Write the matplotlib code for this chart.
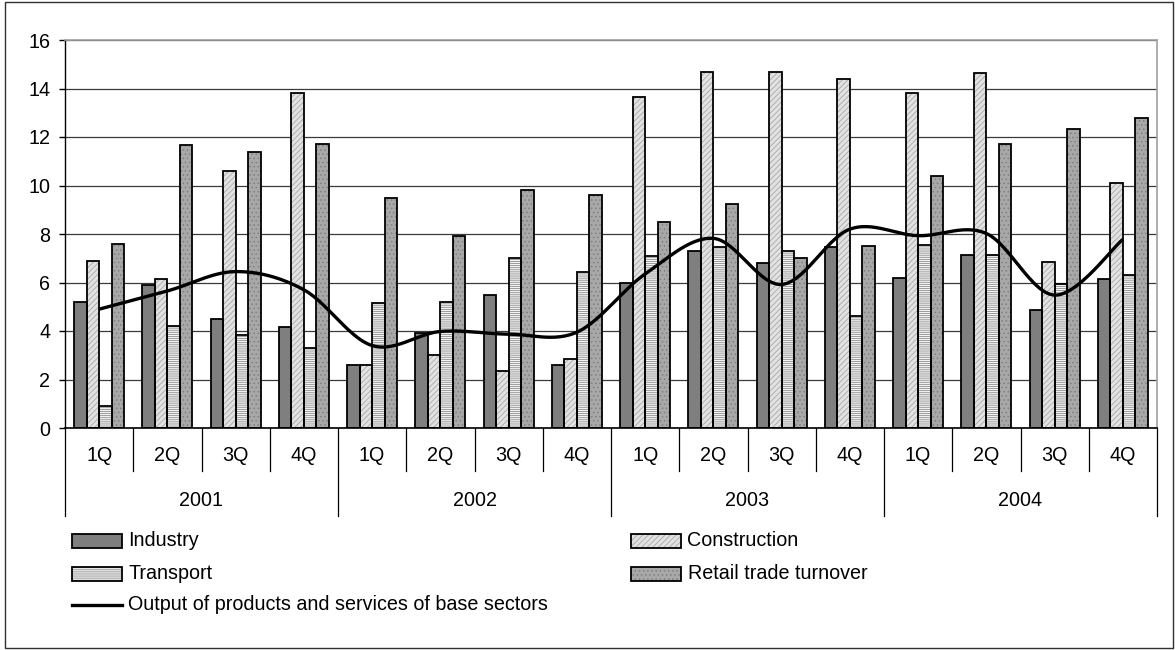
import numpy as np
import matplotlib
matplotlib.use('Agg')
import matplotlib.pyplot as plt
from matplotlib.patches import Rectangle
from matplotlib.lines import Line2D

# Quarterly growth by sector, 2001-2004
years = ['2001', '2002', '2003', '2004']
quarters = ['1Q', '2Q', '3Q', '4Q']

industry = [5.2, 5.9, 4.5, 4.15,
            2.6, 3.9, 5.5, 2.6,
            6.0, 7.3, 6.8, 7.45,
            6.2, 7.15, 4.85, 6.15]
construction = [6.9, 6.15, 10.6, 13.8,
                2.6, 3.0, 2.35, 2.85,
                13.65, 14.7, 14.7, 14.4,
                13.8, 14.65, 6.85, 10.1]
transport = [0.9, 4.2, 3.85, 3.3,
             5.15, 5.2, 7.0, 6.45,
             7.1, 7.45, 7.3, 4.6,
             7.55, 7.15, 5.95, 6.3]
retail = [7.6, 11.65, 11.4, 11.7,
          9.5, 7.9, 9.8, 9.6,
          8.5, 9.25, 7.0, 7.5,
          10.4, 11.7, 12.35, 12.8]
output = [4.9, 5.65, 6.45, 5.7,
          3.4, 3.98, 3.87, 3.95,
          6.35, 7.82, 5.92, 8.2,
          7.93, 8.02, 5.48, 7.78]

series = [
    ('Industry', industry, '#7f7f7f', '#757575', ''),
    ('Construction', construction, '#e2e2e2', '#a8a8a8', '//////'),
    ('Transport', transport, '#f4f4f4', '#8c8c8c', '--------'),
    ('Retail trade turnover', retail, '#a8a8a8', '#808080', '....'),
]

FS = 14.2
plt.rcParams['font.family'] = ['Liberation Sans', 'DejaVu Sans']
plt.rcParams['font.size'] = FS
plt.rcParams['hatch.linewidth'] = 0.6

W, H = 1175, 650
fig = plt.figure(figsize=(W / 100, H / 100), dpi=100)
ax = fig.add_axes([65 / W, 1 - 428 / H, (1157 - 65) / W, (428 - 40) / H])


def smooth(xs, ys, steps=30):
    # Bezier smoothing through every point, like an office chart "smoothed line"
    xs = np.asarray(xs, float)
    ys = np.asarray(ys, float)
    px = np.concatenate([[xs[0]], xs, [xs[-1]]])
    py = np.concatenate([[ys[0]], ys, [ys[-1]]])
    out_x, out_y = [], []
    t = np.linspace(0, 1, steps)
    for i in range(1, len(px) - 2):
        p0 = np.array([px[i], py[i]])
        p3 = np.array([px[i + 1], py[i + 1]])
        c1 = p0 + (np.array([px[i + 1], py[i + 1]]) - np.array([px[i - 1], py[i - 1]])) / 6
        c2 = p3 - (np.array([px[i + 2], py[i + 2]]) - np.array([px[i], py[i]])) / 6
        b = ((1 - t) ** 3)[:, None] * p0 + (3 * (1 - t) ** 2 * t)[:, None] * c1 \
            + (3 * (1 - t) * t ** 2)[:, None] * c2 + (t ** 3)[:, None] * p3
        out_x.extend(b[:, 0])
        out_y.extend(b[:, 1])
    return out_x, out_y


n = len(industry)
x = np.arange(n)
bw = 0.184
for i, (name, vals, face, hcol, hatch) in enumerate(series):
    pos = x + (i - 1.5) * bw
    # fill + hatch first, then a black outline on top
    ax.bar(pos, vals, bw, color=face, edgecolor=hcol, hatch=hatch, linewidth=0, zorder=2)
    ax.bar(pos, vals, bw, fill=False, edgecolor='black', linewidth=1.3, zorder=3)

sx, sy = smooth(x, output)
ax.plot(sx, sy, color='black', lw=2.4, zorder=4, solid_capstyle='butt')

ax.set_xlim(-0.5, n - 0.5)
ax.set_ylim(0, 16)
ax.set_yticks(range(0, 17, 2))
ax.yaxis.grid(True, color='#3a3a3a', lw=0.9, zorder=0)
ax.set_axisbelow(True)
ax.tick_params(axis='y', length=4.5, width=1, pad=6, labelsize=FS)
ax.set_xticks([])
for side in ['top', 'right']:
    ax.spines[side].set_color('#a0a0a0')
    ax.spines[side].set_linewidth(1.2)
ax.spines['left'].set_linewidth(1.0)
ax.spines['bottom'].set_linewidth(1.2)

# two-level category axis: quarters above, years below
tr = ax.get_xaxis_transform()
ax_h = 428 - 40
for k in range(n + 1):
    bottom = -(516 - 428) / ax_h if k % 4 == 0 else -(471 - 428) / ax_h
    ax.plot([k - 0.5, k - 0.5], [0, bottom], color='black', lw=0.9,
            transform=tr, clip_on=False)
for k in range(n):
    ax.text(k, -(461 - 428) / ax_h, quarters[k % 4], ha='center', va='baseline',
            fontsize=FS, transform=tr)
for j, yr in enumerate(years):
    ax.text(4 * j + 1.5, -(506 - 428) / ax_h, yr, ha='center', va='baseline',
            fontsize=FS, transform=tr)


# legend drawn in figure pixels
def fx(px):
    return px / W


def fy(py):
    return 1 - py / H


legend_rows = [
    (series[0], 72, 534),
    (series[1], 631, 534),
    (series[2], 72, 566.5),
    (series[3], 631, 566.5),
]
for (name, vals, face, hcol, hatch), lx, ly in legend_rows:
    fig.patches.append(Rectangle((fx(lx), fy(ly + 14)), 50 / W, 14 / H, transform=fig.transFigure,
                                 facecolor=face, edgecolor=hcol, hatch=hatch, linewidth=0))
    fig.patches.append(Rectangle((fx(lx), fy(ly + 14)), 50 / W, 14 / H, transform=fig.transFigure,
                                 fill=False, edgecolor='black', linewidth=1.3))
    fig.text(fx(lx + 56.5), fy(ly + 12.5), name, ha='left', va='baseline', fontsize=FS)

fig.lines.append(Line2D([fx(72), fx(122)], [fy(605), fy(605)], transform=fig.transFigure,
                        color='black', lw=2.4))
fig.text(fx(128.5), fy(610.5), 'Output of products and services of base sectors',
         ha='left', va='baseline', fontsize=FS)

# chart border
fig.patches.append(Rectangle((fx(5), fy(648)), (1173 - 5) / W, (648 - 2) / H,
                             transform=fig.transFigure, fill=False,
                             edgecolor='#303030', linewidth=1.0))

fig.savefig('out.png', dpi=100)
